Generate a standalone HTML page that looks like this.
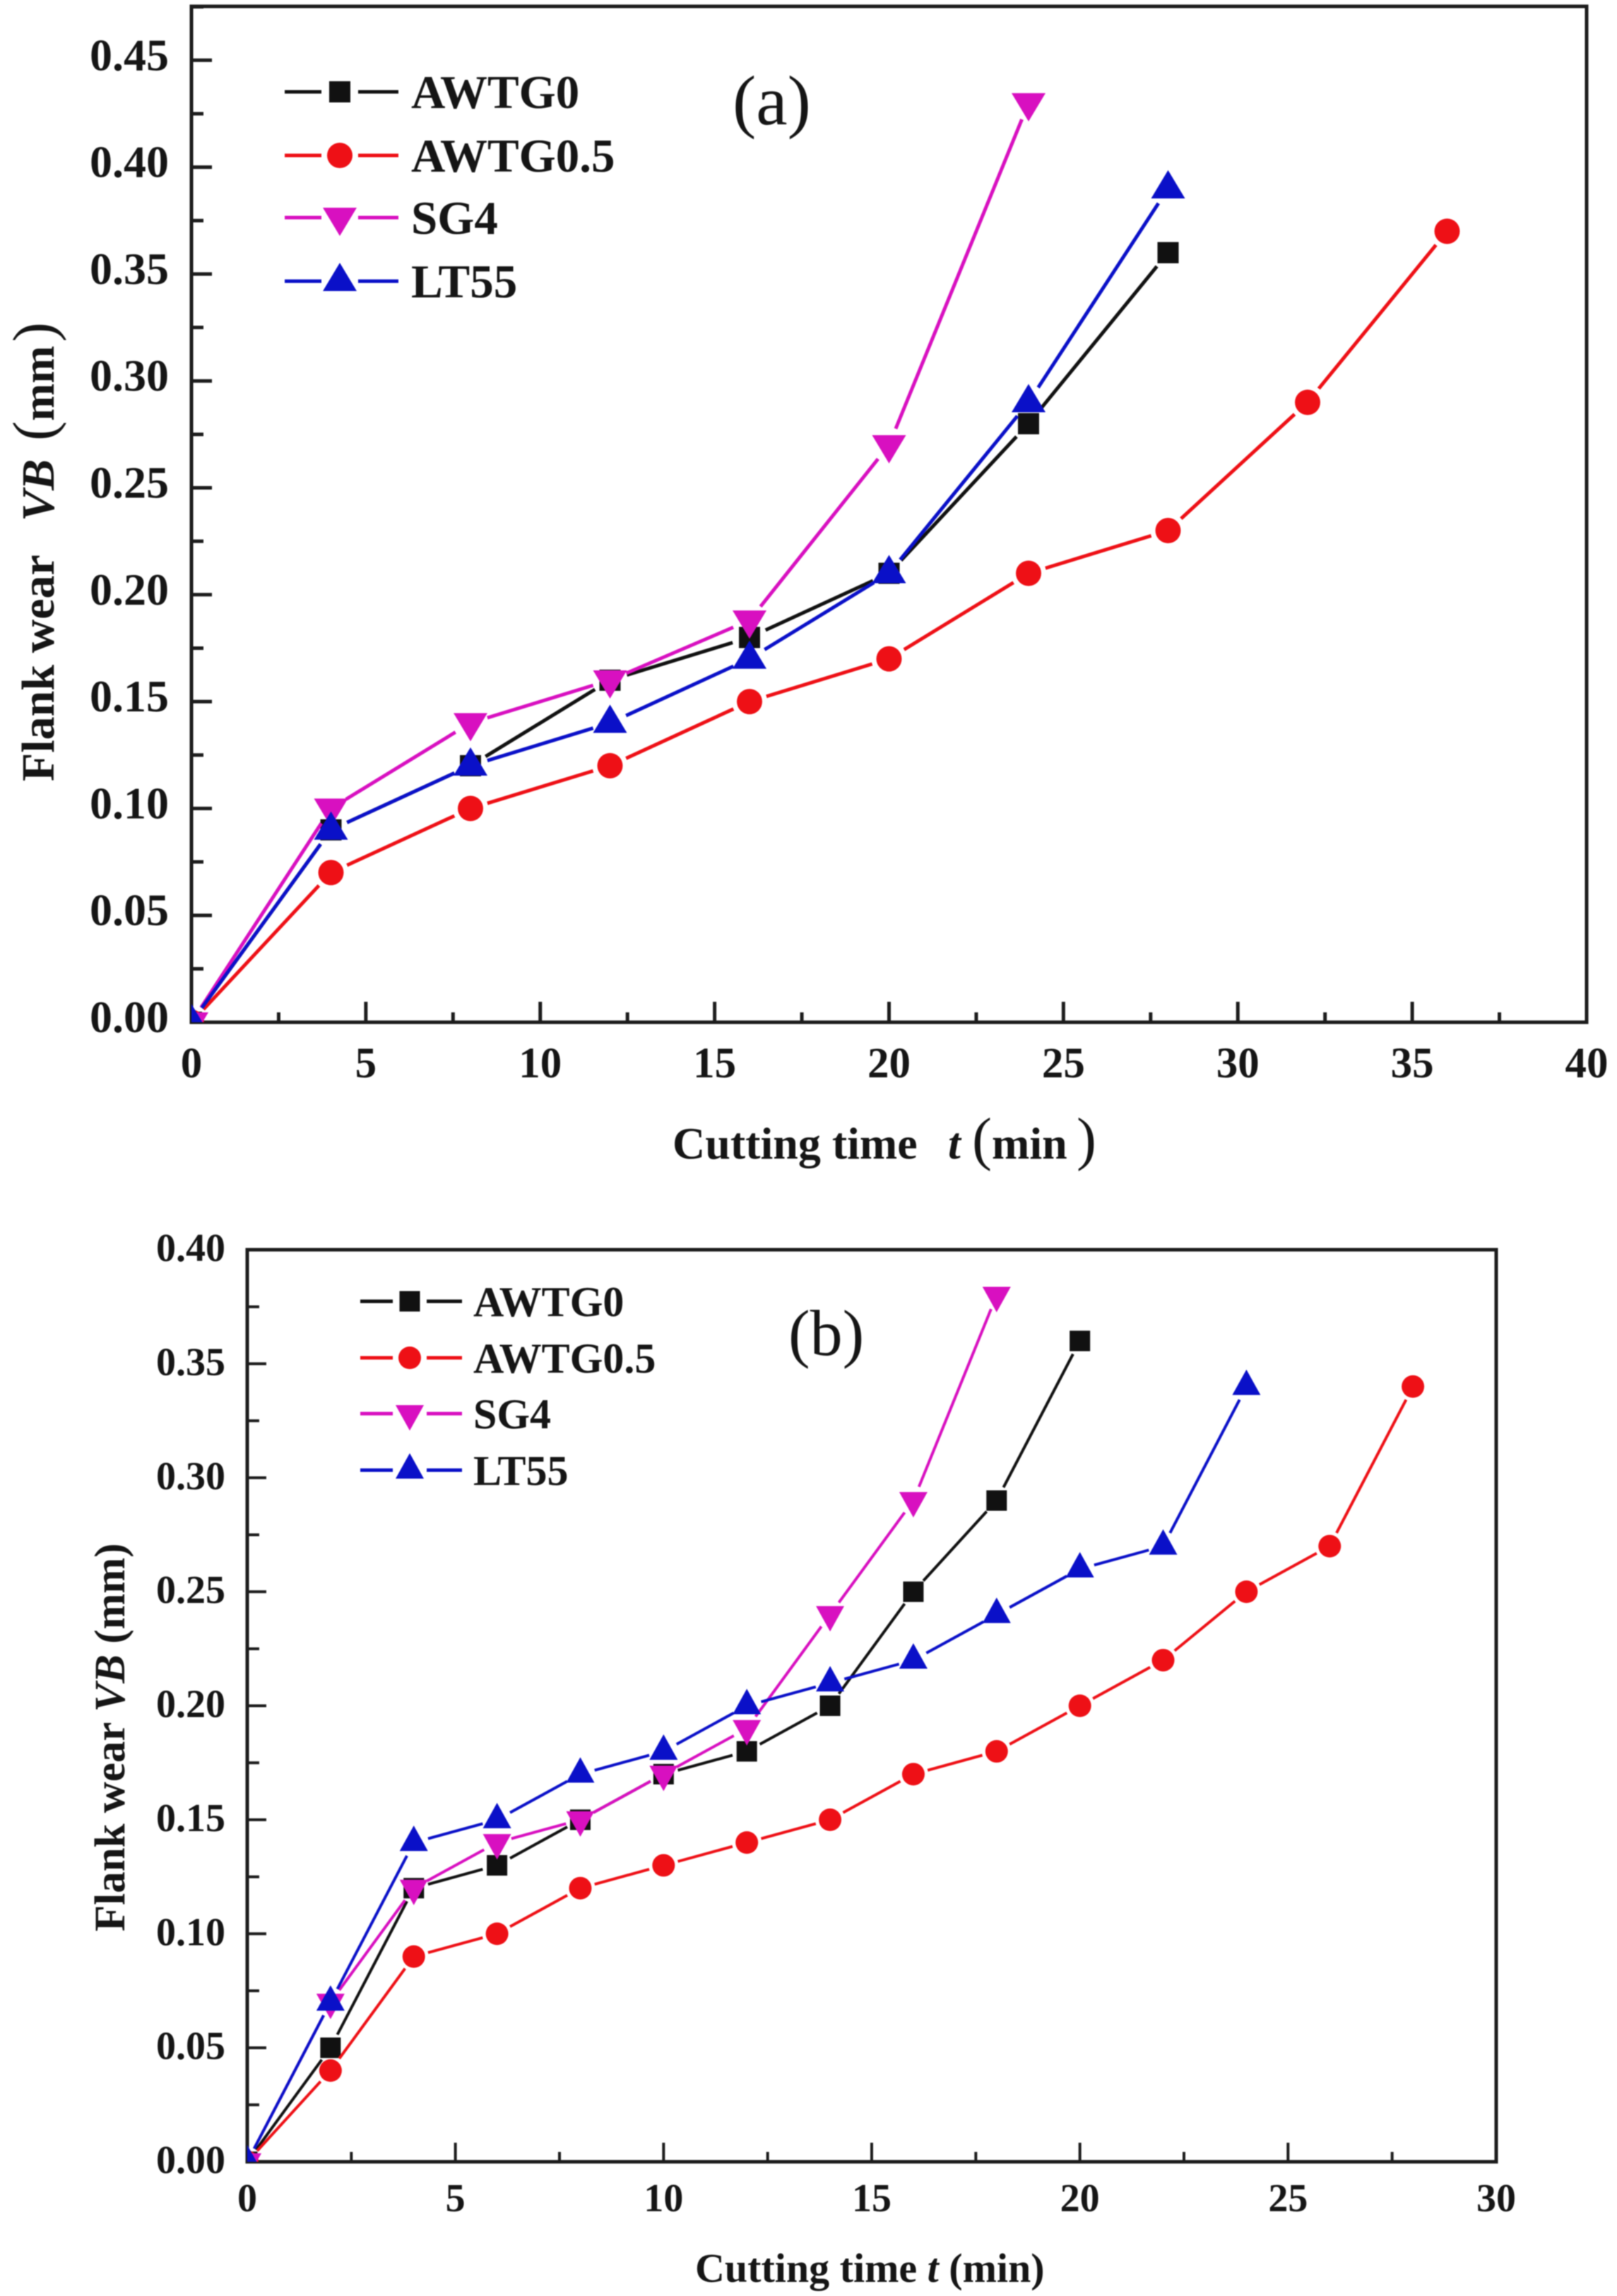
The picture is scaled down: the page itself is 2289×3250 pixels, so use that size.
<!DOCTYPE html>
<html lang="en">
<head>
<meta charset="utf-8">
<title>Flank wear versus cutting time</title>
<style>
html,body{margin:0;padding:0;background:#fff;}
#figure{display:block;width:2289px;height:3250px;filter:blur(0.9px);}
text{font-family:"Liberation Serif",serif;fill:#151515;}
</style>
</head>
<body>
<svg id="figure" xmlns="http://www.w3.org/2000/svg" width="2289" height="3250" viewBox="0 0 2289 3250">
  <rect x="0" y="0" width="2289" height="3250" fill="#fff"/>
  <g id="panel-a"></g>
  <g id="panel-b"></g>

  <text x="1037" y="176" font-size="100">(a)</text>
  <text x="1116" y="1918" font-size="92">(b)</text>

  <g font-weight="bold" font-size="64">
    <text x="952" y="1640">Cutting time</text>
    <text x="1342" y="1640" font-style="italic">t</text>
    <text x="1376" y="1640" font-size="84" font-weight="normal">(</text>
    <text x="1404" y="1640">min</text>
    <text x="1524" y="1640" font-size="84" font-weight="normal">)</text>
  </g>
  <g font-weight="bold" font-size="66" transform="translate(76,1106) rotate(-90)">
    <text x="0" y="0">Flank wear</text>
    <text x="368" y="0" font-style="italic">VB</text>
    <text x="482" y="0" font-size="84" font-weight="normal">(</text>
    <text x="510" y="0" font-size="64">mm</text>
    <text x="622" y="0" font-size="84" font-weight="normal">)</text>
  </g>
  <text x="984" y="3230" font-size="58" font-weight="bold">Cutting time <tspan font-style="italic">t</tspan> (min)</text>
  <text transform="translate(176,2734) rotate(-90)" font-size="61" font-weight="bold">Flank wear <tspan font-style="italic">VB</tspan> (mm)</text>
</svg>
<script>
// ---------- Panel (a) data ----------
const aXTickLabels = ["0", "5", "10", "15", "20", "25", "30", "35", "40"];
const aYTickLabels = ["0.00", "0.05", "0.10", "0.15", "0.20", "0.25", "0.30", "0.35", "0.40", "0.45"];
const aTimeAWTG0 = [0, 4, 8, 12, 16, 20, 24, 28];
const aWearAWTG0 = [0, 0.09, 0.12, 0.16, 0.18, 0.21, 0.28, 0.36];
const aTimeAWTG05 = [0, 4, 8, 12, 16, 20, 24, 28, 32, 36];
const aWearAWTG05 = [0, 0.07, 0.10, 0.12, 0.15, 0.17, 0.21, 0.23, 0.29, 0.37];
const aTimeSG4 = [0, 4, 8, 12, 16, 20, 24];
const aWearSG4 = [0, 0.10, 0.14, 0.16, 0.188, 0.27, 0.43];
const aTimeLT55 = [0, 4, 8, 12, 16, 20, 24, 28];
const aWearLT55 = [0, 0.09, 0.12, 0.14, 0.17, 0.21, 0.29, 0.39];

// ---------- Panel (b) data ----------
const bXTickLabels = ["0", "5", "10", "15", "20", "25", "30"];
const bYTickLabels = ["0.00", "0.05", "0.10", "0.15", "0.20", "0.25", "0.30", "0.35", "0.40"];
const bTimeAWTG0 = [0, 2, 4, 6, 8, 10, 12, 14, 16, 18, 20];
const bWearAWTG0 = [0, 0.05, 0.12, 0.13, 0.15, 0.17, 0.18, 0.20, 0.25, 0.29, 0.36];
const bTimeAWTG05 = [0, 2, 4, 6, 8, 10, 12, 14, 16, 18, 20, 22, 24, 26, 28];
const bWearAWTG05 = [0, 0.04, 0.09, 0.10, 0.12, 0.13, 0.14, 0.15, 0.17, 0.18, 0.20, 0.22, 0.25, 0.27, 0.34];
const bTimeSG4 = [0, 2, 4, 6, 8, 10, 12, 14, 16, 18];
const bWearSG4 = [0, 0.07, 0.12, 0.14, 0.15, 0.17, 0.19, 0.24, 0.29, 0.38];
const bTimeLT55 = [0, 2, 4, 6, 8, 10, 12, 14, 16, 18, 20, 22, 24];
const bWearLT55 = [0, 0.07, 0.14, 0.15, 0.17, 0.18, 0.20, 0.21, 0.22, 0.24, 0.26, 0.27, 0.34];

const legendNames = ["AWTG0", "AWTG0.5", "SG4", "LT55"];
const seriesColors = ["#111111", "#ee1016", "#d810c0", "#0a10c8"];
const seriesShapes = ["square", "circle", "down", "up"];

const SVGNS = "http://www.w3.org/2000/svg";
function mk(parent, tag, attrs, txt) {
  const n = document.createElementNS(SVGNS, tag);
  for (const k in attrs) n.setAttribute(k, attrs[k]);
  if (txt !== undefined) n.textContent = txt;
  parent.appendChild(n);
  return n;
}

function drawMarker(parent, shape, cx, cy, m, color) {
  let node;
  if (shape === "square") {
    node = mk(parent, "rect", {x: cx - m.sq / 2, y: cy - m.sq / 2, width: m.sq, height: m.sq, fill: color});
  } else if (shape === "circle") {
    node = mk(parent, "circle", {cx: cx, cy: cy, r: m.r, fill: color});
  } else if (shape === "down") {
    node = mk(parent, "polygon", {points: (cx - m.tw) + "," + (cy - m.tu) + " " + (cx + m.tw) + "," + (cy - m.tu) + " " + cx + "," + (cy + m.td), fill: color});
  } else {
    node = mk(parent, "polygon", {points: (cx - m.tw) + "," + (cy + m.tu) + " " + (cx + m.tw) + "," + (cy + m.tu) + " " + cx + "," + (cy - m.td), fill: color});
  }
  
  
}

function drawPanel(root, cfg) {
  const L = cfg.left, R = cfg.right, T = cfg.top, B = cfg.bottom;
  const xScale = function (v) { return L + v / cfg.xMax * (R - L); };
  const yScale = function (v) { return B - v * cfg.yUnit; };

  const clipId = cfg.id + "-clip";
  const defs = mk(root, "defs", {});
  const clip = mk(defs, "clipPath", {id: clipId});
  mk(clip, "rect", {x: L, y: T, width: R - L, height: B - T});

  // plot frame
  const frame = mk(root, "rect", {x: L, y: T, width: R - L, height: B - T, fill: "none", stroke: "#1c1c1c", "stroke-width": cfg.frameWidth});
  
  

  // x ticks + labels
  const xAxis = mk(root, "g", {stroke: "#1c1c1c", "stroke-width": cfg.tickWidth});
  
  
  cfg.xLabels.forEach(function (lab) {
    const v = parseFloat(lab);
    const px = xScale(v);
    mk(xAxis, "line", {x1: px, x2: px, y1: B, y2: B - cfg.majorLen});
    if (v + 2.5 < cfg.xMax) {
      const mx = xScale(v + 2.5);
      mk(xAxis, "line", {x1: mx, x2: mx, y1: B, y2: B - cfg.minorXLen});
    }
    const t = mk(root, "text", {x: px, y: cfg.xLabelY, "text-anchor": "middle", "font-size": cfg.xTickFont, "font-weight": "bold"}, lab);
    
    
  });

  // y ticks + labels
  const yAxis = mk(root, "g", {stroke: "#1c1c1c", "stroke-width": cfg.tickWidth});
  
  
  cfg.yLabels.forEach(function (lab) {
    const v = parseFloat(lab);
    const py = yScale(v);
    mk(yAxis, "line", {x1: L, x2: L + cfg.majorLen, y1: py, y2: py});
    const my = yScale(v + 0.025);
    if (my > T) mk(yAxis, "line", {x1: L, x2: L + cfg.minorYLen, y1: my, y2: my});
    const t = mk(root, "text", {x: cfg.yLabelX, y: py + cfg.yLabelDy, "text-anchor": "end", "font-size": cfg.yTickFont, "font-weight": "bold"}, lab);
    
    
  });

  // series
  const plot = mk(root, "g", {"clip-path": "url(#" + clipId + ")"});
  
  
  cfg.series.forEach(function (s, i) {
    const g = mk(plot, "g", {});
    
    
    const color = seriesColors[i];
    for (let k = 0; k + 1 < s.t.length; k++) {
      const x1 = xScale(s.t[k]), y1 = yScale(s.w[k]), x2 = xScale(s.t[k + 1]), y2 = yScale(s.w[k + 1]);
      const d = Math.hypot(x2 - x1, y2 - y1);
      if (d <= 2 * cfg.gap) continue;
      const ux = (x2 - x1) / d, uy = (y2 - y1) / d;
      mk(g, "line", {x1: x1 + ux * cfg.gap, y1: y1 + uy * cfg.gap, x2: x2 - ux * cfg.gap, y2: y2 - uy * cfg.gap, stroke: color, "stroke-width": cfg.lineWidth});
    }
    s.t.forEach(function (tv, k) {
      drawMarker(g, seriesShapes[i], xScale(tv), yScale(s.w[k]), cfg.marker, color);
    });
  });

  // legend
  const legend = mk(root, "g", {});
  
  
  legendNames.forEach(function (name, i) {
    const y = cfg.legend.rows[i];
    const entry = mk(legend, "g", {});
    
    
    mk(entry, "line", {x1: cfg.legend.x1, x2: cfg.legend.cx - cfg.legend.gap, y1: y, y2: y, stroke: seriesColors[i], "stroke-width": cfg.legend.lineWidth});
    mk(entry, "line", {x1: cfg.legend.cx + cfg.legend.gap, x2: cfg.legend.x2, y1: y, y2: y, stroke: seriesColors[i], "stroke-width": cfg.legend.lineWidth});
    drawMarker(entry, seriesShapes[i], cfg.legend.cx, y, cfg.marker, seriesColors[i]);
    mk(entry, "text", {x: cfg.legend.textX, y: y + cfg.legend.dy, "font-size": cfg.legend.font, "font-weight": "bold"}, name);
  });
}

drawPanel(document.getElementById("panel-a"), {
  id: "a", left: 271, right: 2246, top: 9, bottom: 1447, xMax: 40, yUnit: 3026,
  frameWidth: 5, tickWidth: 5, lineWidth: 5, majorLen: 29, minorXLen: 14, minorYLen: 17, gap: 25,
  xTickFont: 61, yTickFont: 64, xLabelY: 1525, yLabelX: 239, yLabelDy: 14,
  xLabels: aXTickLabels, yLabels: aYTickLabels,
  marker: {sq: 30, r: 18, tw: 24, tu: 14, td: 26},
  legend: {x1: 403, x2: 564, cx: 481, gap: 26, lineWidth: 5, textX: 582, dy: 23, font: 67, rows: [130, 220, 308, 398]},
  series: [
    {t: aTimeAWTG0, w: aWearAWTG0},
    {t: aTimeAWTG05, w: aWearAWTG05},
    {t: aTimeSG4, w: aWearSG4},
    {t: aTimeLT55, w: aWearLT55}
  ]
});

drawPanel(document.getElementById("panel-b"), {
  id: "b", left: 350, right: 2118, top: 1769, bottom: 3060, xMax: 30, yUnit: 3227.5,
  frameWidth: 5, tickWidth: 4, lineWidth: 4, majorLen: 27, minorXLen: 14, minorYLen: 17, gap: 21,
  xTickFont: 56, yTickFont: 56, xLabelY: 3130, yLabelX: 319, yLabelDy: 16,
  xLabels: bXTickLabels, yLabels: bYTickLabels,
  marker: {sq: 29, r: 16, tw: 20, tu: 12, td: 24},
  legend: {x1: 510, x2: 654, cx: 580, gap: 24, lineWidth: 5, textX: 670, dy: 21, font: 60, rows: [1842, 1922, 2001, 2081]},
  series: [
    {t: bTimeAWTG0, w: bWearAWTG0},
    {t: bTimeAWTG05, w: bWearAWTG05},
    {t: bTimeSG4, w: bWearSG4},
    {t: bTimeLT55, w: bWearLT55}
  ]
});
</script>
</body>
</html>
